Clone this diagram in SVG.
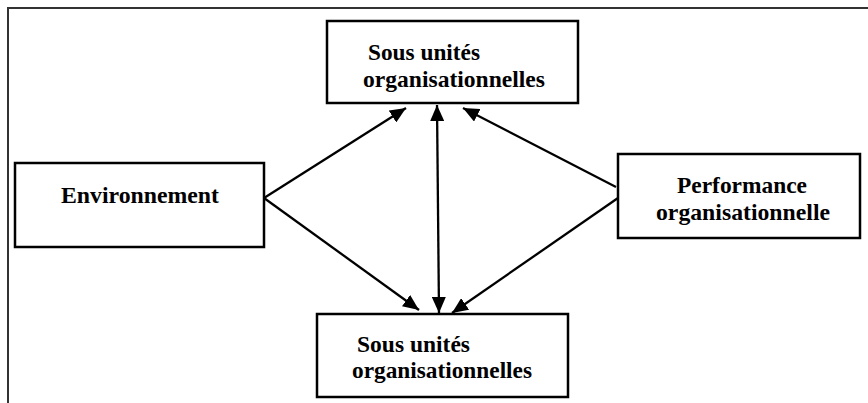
<svg xmlns="http://www.w3.org/2000/svg" width="868" height="403" viewBox="0 0 868 403">
  <defs>
    <marker id="head" viewBox="0 0 16 14" refX="16" refY="7" markerWidth="16" markerHeight="14" markerUnits="userSpaceOnUse" orient="auto-start-reverse">
      <path d="M0,0 L16,7 L0,14 Z" fill="#000"/>
    </marker>
    <style>
      .box { fill: #fff; stroke: #000; stroke-width: 2.5; }
      .lbl { font-family: "Liberation Serif", "Times New Roman", serif; font-weight: bold; font-size: 23px; fill: #000; }
      .edge { stroke: #000; stroke-width: 2.3; fill: none; }
      .frame { stroke: #333; stroke-width: 2; fill: none; }
    </style>
  </defs>
  <rect width="868" height="403" fill="#fff"/>
  <!-- page frame -->
  <path class="frame" d="M8,403 L8,8 L868,8"/>

  <g id="connectors">
    <line class="edge" x1="264" y1="198" x2="406" y2="108" marker-end="url(#head)"/>
    <line class="edge" x1="264" y1="198" x2="419" y2="310" marker-end="url(#head)"/>
    <line class="edge" x1="616" y1="187" x2="463" y2="108" marker-end="url(#head)"/>
    <line class="edge" x1="618" y1="198" x2="452" y2="313" marker-end="url(#head)"/>
    <line class="edge" x1="437" y1="105" x2="439" y2="313" marker-start="url(#head)" marker-end="url(#head)"/>
  </g>

  <g id="sous-unites-haut">
    <rect class="box" x="327" y="21" width="251" height="82"/>
    <text class="lbl" x="368" y="60" textLength="112" lengthAdjust="spacingAndGlyphs">Sous unités</text>
    <text class="lbl" x="363" y="87" textLength="182" lengthAdjust="spacingAndGlyphs">organisationnelles</text>
  </g>

  <g id="environnement">
    <rect class="box" x="15" y="163" width="249" height="84"/>
    <text class="lbl" x="61" y="203" textLength="158" lengthAdjust="spacingAndGlyphs">Environnement</text>
  </g>

  <g id="performance">
    <rect class="box" x="618" y="154" width="242" height="84"/>
    <text class="lbl" x="677" y="193" textLength="130" lengthAdjust="spacingAndGlyphs">Performance</text>
    <text class="lbl" x="656" y="220" textLength="174" lengthAdjust="spacingAndGlyphs">organisationnelle</text>
  </g>

  <g id="sous-unites-bas">
    <rect class="box" x="317" y="314" width="251" height="83"/>
    <text class="lbl" x="357" y="352" textLength="113" lengthAdjust="spacingAndGlyphs">Sous unités</text>
    <text class="lbl" x="352" y="378" textLength="180" lengthAdjust="spacingAndGlyphs">organisationnelles</text>
  </g>
</svg>
